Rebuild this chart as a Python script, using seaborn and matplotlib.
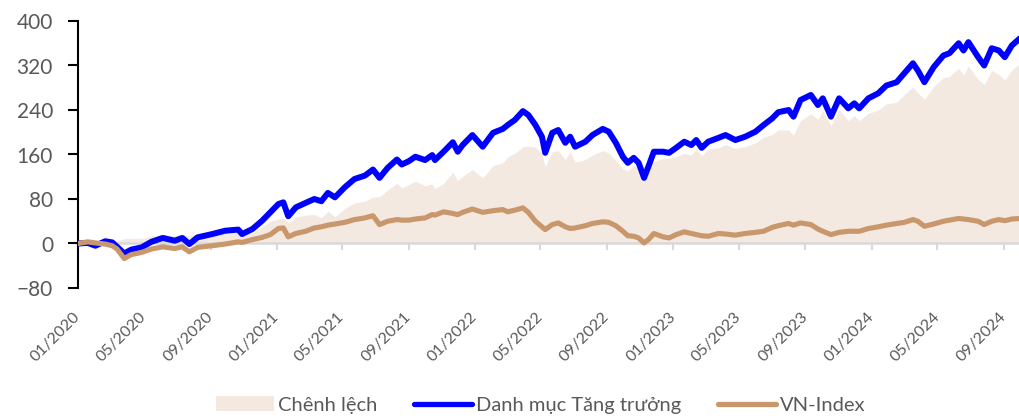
import matplotlib
matplotlib.use("Agg")
import matplotlib.pyplot as plt
import matplotlib.dates as mdates
import numpy as np
import pandas as pd
import seaborn as sns

# ---- data ----
dates = [
    "2020-01-01", "2020-01-19", "2020-02-02", "2020-02-20", "2020-03-04", "2020-03-13",
    "2020-03-26", "2020-04-08", "2020-04-27", "2020-05-15", "2020-06-05", "2020-06-27",
    "2020-07-11", "2020-07-24", "2020-08-08", "2020-09-04", "2020-09-28", "2020-10-22",
    "2020-10-29", "2020-11-17", "2020-12-05", "2020-12-20", "2021-01-04", "2021-01-13",
    "2021-01-22", "2021-02-05", "2021-02-23", "2021-03-11", "2021-03-24", "2021-04-05",
    "2021-04-18", "2021-05-06", "2021-05-24", "2021-06-12", "2021-06-27", "2021-07-09",
    "2021-07-24", "2021-08-10", "2021-08-19", "2021-09-01", "2021-09-13", "2021-10-01",
    "2021-10-14", "2021-10-19", "2021-11-04", "2021-11-21", "2021-11-30", "2021-12-09",
    "2021-12-27", "2022-01-15", "2022-02-03", "2022-02-21", "2022-03-02", "2022-03-15",
    "2022-03-30", "2022-04-09", "2022-04-22", "2022-05-04", "2022-05-10", "2022-05-23",
    "2022-06-03", "2022-06-16", "2022-06-25", "2022-07-04", "2022-07-23", "2022-08-05",
    "2022-08-24", "2022-09-04", "2022-09-17", "2022-09-30", "2022-10-09", "2022-10-20",
    "2022-10-29", "2022-11-08", "2022-11-17", "2022-11-26", "2022-12-13", "2022-12-24",
    "2023-01-06", "2023-01-21", "2023-02-03", "2023-02-12", "2023-02-22", "2023-03-06",
    "2023-03-25", "2023-04-07", "2023-04-25", "2023-05-13", "2023-06-01", "2023-06-16",
    "2023-07-02", "2023-07-13", "2023-08-01", "2023-08-10", "2023-08-23", "2023-09-11",
    "2023-09-24", "2023-10-03", "2023-10-18", "2023-11-02", "2023-11-19", "2023-11-30",
    "2023-12-09", "2023-12-26", "2024-01-13", "2024-01-28", "2024-02-16", "2024-03-01",
    "2024-03-17", "2024-03-26", "2024-04-07", "2024-04-24", "2024-05-12", "2024-05-23",
    "2024-06-09", "2024-06-18", "2024-06-27", "2024-07-15", "2024-07-26", "2024-08-09",
    "2024-08-22", "2024-09-02", "2024-09-15", "2024-09-30",
]

danh_muc = [
    0, 1, -4, 4, 2, -6,
    -18, -11, -7, 3, 10, 5,
    10, -1, 11, 17, 23, 25,
    17, 26, 41, 56, 71, 74,
    49, 65, 73, 80, 76, 91,
    83, 101, 116, 122, 133, 118,
    136, 151, 142, 148, 156, 150,
    159, 150, 165, 182, 165, 177,
    195, 174, 199, 206, 213, 222,
    238, 231, 213, 192, 163, 199,
    204, 181, 192, 174, 183, 195,
    206, 201, 181, 156, 145, 154,
    145, 118, 141, 165, 165, 163,
    172, 183, 177, 186, 172, 183,
    190, 195, 186, 192, 201, 213,
    225, 236, 240, 228, 258, 267,
    249, 261, 228, 261, 243, 252,
    243, 261, 270, 284, 290, 306,
    324, 311, 290, 317, 338, 342,
    360, 347, 362, 335, 320, 351,
    347, 335, 356, 369,
]

vn_index = [
    0, 3, 1, -1, -4, -10,
    -27, -20, -16, -10, -6, -9,
    -6, -15, -7, -4, -1, 3,
    2, 7, 11, 16, 27, 28,
    12, 18, 22, 28, 30, 33,
    35, 38, 43, 46, 50, 34,
    40, 43, 42, 42, 44, 46,
    52, 51, 57, 54, 52, 56,
    62, 56, 59, 61, 57, 60,
    64, 56, 40, 30, 25, 34,
    37, 30, 27, 28, 32, 36,
    39, 38, 32, 22, 14, 13,
    10, 1, 8, 18, 12, 10,
    16, 21, 18, 16, 14, 13,
    18, 17, 15, 18, 20, 22,
    29, 32, 36, 33, 37, 34,
    26, 22, 16, 20, 22, 22,
    22, 27, 30, 33, 36, 38,
    43, 40, 31, 35, 40, 42,
    45, 44, 43, 40, 34, 40,
    43, 41, 44, 45,
]

series_labels = ["Chênh lệch", "Danh mục Tăng trưởng", "VN-Index"]
y_ticks = [-80, 0, 80, 160, 240, 320, 400]

df = pd.DataFrame({
    "date": pd.to_datetime(dates),
    "danh_muc": danh_muc,
    "vn_index": vn_index,
})
df["chenh_lech"] = df["danh_muc"] - df["vn_index"]

# ---- style ----
sns.set_theme(style="white")
plt.rcParams["font.family"] = ["Lato", "DejaVu Sans"]

C_FILL = "#F3E9E1"
C_BLUE = "#0000FF"
C_TAN = "#C9976C"
C_TEXT = "#595959"

fig = plt.figure(figsize=(10.2, 4.19), dpi=100)
ax = fig.add_axes([78 / 1020, 1 - 288 / 419, (1020 - 78) / 1020, (288 - 21) / 419])

ax.fill_between(df["date"], 0, df["chenh_lech"], color=C_FILL, linewidth=0,
                label=series_labels[0], zorder=1)
sns.lineplot(data=df, x="date", y="danh_muc", ax=ax, color=C_BLUE, linewidth=4.3,
             label=series_labels[1], zorder=3, solid_capstyle="round",
             solid_joinstyle="round")
sns.lineplot(data=df, x="date", y="vn_index", ax=ax, color=C_TAN, linewidth=3.7,
             label=series_labels[2], zorder=4, solid_capstyle="round",
             solid_joinstyle="round")
if ax.get_legend() is not None:
    ax.get_legend().remove()

ax.set_xlim(df["date"].iloc[0], df["date"].iloc[-1])
ax.set_ylim(-80, 400)
ax.set_yticks(y_ticks)
ax.set_xlabel("")
ax.set_ylabel("")

# spines
for s in ["top", "right"]:
    ax.spines[s].set_visible(False)
ax.spines["left"].set_color("black")
ax.spines["left"].set_linewidth(1.5)
ax.spines["bottom"].set_position(("data", 0))
ax.spines["bottom"].set_color("#D9D9D9")
ax.spines["bottom"].set_linewidth(1.8)
ax.spines["bottom"].set_zorder(2)

ax.xaxis.set_major_locator(mdates.MonthLocator(bymonth=[1, 5, 9]))
ax.xaxis.set_major_formatter(mdates.DateFormatter("%m/%Y"))
ax.tick_params(axis="x", bottom=True, direction="out", length=5, width=1.5,
               color="#D9D9D9", pad=46, labelsize=11.5, labelcolor=C_TEXT)
ax.tick_params(axis="y", left=True, direction="out", length=7, width=1.5,
               color="black", pad=11, labelsize=15, labelcolor=C_TEXT)
for lab in ax.get_xticklabels():
    lab.set_rotation(45)
    lab.set_ha("right")
    lab.set_va("center")
    lab.set_rotation_mode("anchor")

ax.grid(False)

# legend
handles, labels = ax.get_legend_handles_labels()
order = [labels.index(l) for l in series_labels]
leg = fig.legend([handles[i] for i in order], [labels[i] for i in order],
                 loc="center", bbox_to_anchor=(0.53, 1 - 405 / 419), ncol=3,
                 frameon=False, handlelength=2.9, handletextpad=0.2,
                 columnspacing=1.8, labelcolor=C_TEXT,
                 prop={"family": ["Lato", "DejaVu Sans"], "size": 14.5})
for line in leg.get_lines():
    line.set_linewidth(3.8)

fig.savefig("out.png", dpi=100)
